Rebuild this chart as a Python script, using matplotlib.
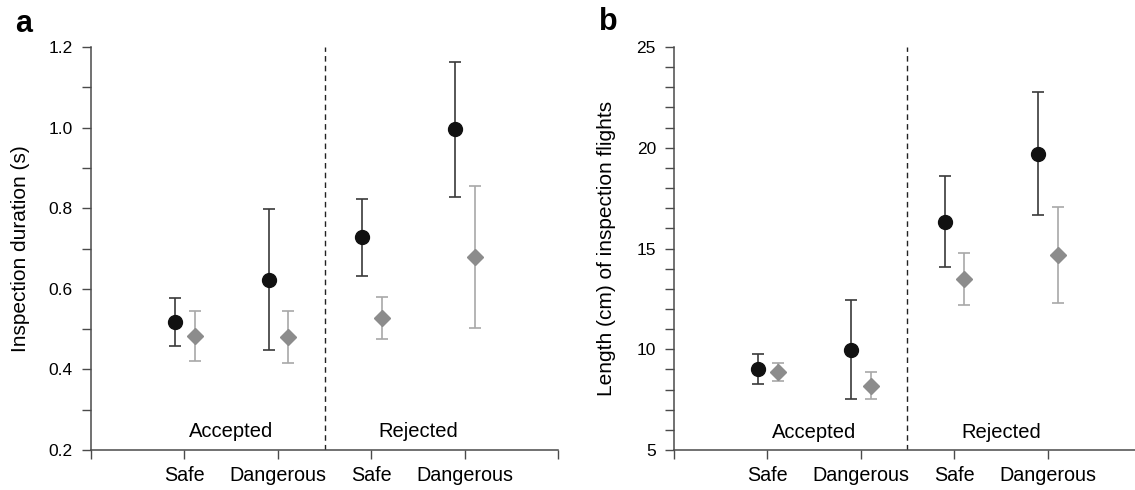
"""Inspection duration and flight length, accepted vs rejected flowers."""

import matplotlib

matplotlib.use("Agg")
import matplotlib.pyplot as plt
import numpy as np
from matplotlib.ticker import MultipleLocator

BLACK = "#111111"
BLACK_BAR = "#3a3a3a"
GREY = "#8c8c8c"
GREY_BAR = "#a8a8a8"
SPINE = "#4a4a4a"

CATEGORIES = ["Safe", "Dangerous", "Safe", "Dangerous"]
GROUPS = ["Accepted", "Rejected"]

# panel a: inspection duration (s)
dur_black = [0.517, 0.623, 0.728, 0.996]
dur_black_lo = [0.459, 0.447, 0.633, 0.828]
dur_black_hi = [0.577, 0.798, 0.823, 1.163]
dur_grey = [0.482, 0.480, 0.528, 0.680]
dur_grey_lo = [0.420, 0.416, 0.475, 0.504]
dur_grey_hi = [0.544, 0.545, 0.580, 0.856]

# panel b: length (cm) of inspection flights
len_black = [9.03, 9.97, 16.33, 19.68]
len_black_lo = [8.29, 7.51, 14.07, 16.64]
len_black_hi = [9.77, 12.43, 18.61, 22.75]
len_grey = [8.88, 8.17, 13.49, 14.69]
len_grey_lo = [8.45, 7.54, 12.20, 12.32]
len_grey_hi = [9.31, 8.85, 14.76, 17.07]

plt.rcParams.update(
    {
        "font.family": ["Liberation Sans", "DejaVu Sans"],
        "font.size": 14,
        "axes.linewidth": 1.1,
        "axes.edgecolor": SPINE,
    }
)


def draw_panel(ax, black, b_lo, b_hi, grey, g_lo, g_hi, ylim, major, minor, ylabel, group_y):
    x = np.arange(1, len(CATEGORIES) + 1)
    black = np.asarray(black)
    grey = np.asarray(grey)
    ax.errorbar(
        x - 0.1, black,
        yerr=[black - np.asarray(b_lo), np.asarray(b_hi) - black],
        fmt="o", color=BLACK, ecolor=BLACK_BAR, markersize=10,
        elinewidth=1.2, capsize=4, capthick=1.2, zorder=3,
    )
    ax.errorbar(
        x + 0.11, grey,
        yerr=[grey - np.asarray(g_lo), np.asarray(g_hi) - grey],
        fmt="D", color=GREY, ecolor=GREY_BAR, markersize=8,
        elinewidth=1.2, capsize=4, capthick=1.2, zorder=3,
    )
    ax.axvline(2.5, color="#222222", linewidth=1.0, linestyle=(0, (4, 3)))
    ax.text(1.5, group_y, GROUPS[0], ha="center", va="center", fontsize=14.5)
    ax.text(3.5, group_y, GROUPS[1], ha="center", va="center", fontsize=14.5)

    ax.set_xlim(0, 5)
    ax.set_ylim(*ylim)
    ax.set_xticks(np.arange(0, 6))
    ax.set_xticklabels([""] + CATEGORIES + [""])
    ax.yaxis.set_major_locator(MultipleLocator(major))
    ax.yaxis.set_minor_locator(MultipleLocator(minor))
    ax.tick_params(axis="both", which="both", length=6.5, width=1.0, color=SPINE)
    ax.tick_params(axis="x", pad=5, labelsize=14.2)
    ax.tick_params(axis="y", pad=6.5, labelsize=12.5)
    for side in ("top", "right"):
        ax.spines[side].set_visible(False)
    ax.set_ylabel(ylabel, fontsize=15)


fig = plt.figure(figsize=(11.35, 4.9), dpi=100)
ax_a = fig.add_axes([0.0802, 0.0816, 0.4115, 0.8224])
ax_b = fig.add_axes([0.5938, 0.0816, 0.4115, 0.8224])

draw_panel(ax_a, dur_black, dur_black_lo, dur_black_hi, dur_grey, dur_grey_lo, dur_grey_hi,
           (0.2, 1.2), 0.2, 0.1, "Inspection duration (s)", 0.245)
ax_a.yaxis.set_major_formatter(plt.FormatStrFormatter("%.1f"))
draw_panel(ax_b, len_black, len_black_lo, len_black_hi, len_grey, len_grey_lo, len_grey_hi,
           (5, 25), 5, 1, "Length (cm) of inspection flights", 5.86)

ax_a.yaxis.set_label_coords(-0.131, 0.5)
ax_b.yaxis.set_label_coords(-0.124, 0.5)

fig.text(15 / 1135, 1 - 24 / 490, "a", fontsize=22, fontweight="bold", va="center", ha="left")
fig.text(599 / 1135, 1 - 22 / 490, "b", fontsize=22, fontweight="bold", va="center", ha="left")

fig.savefig("out.png", dpi=100)
